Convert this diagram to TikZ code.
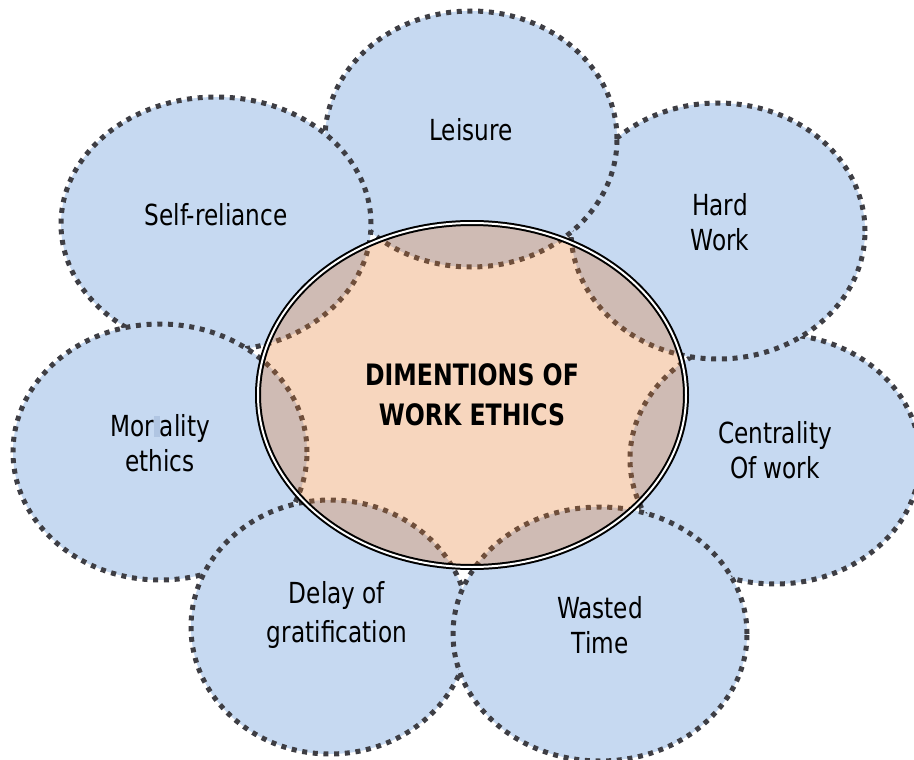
\documentclass[tikz,border=0pt]{standalone}
\usepackage{xcolor}
\usepackage{fontspec}
\setmainfont[FakeStretch=0.8]{DejaVu Sans}
\usepackage{tikz}
\usetikzlibrary{shapes.geometric}
\definecolor{petalblue}{RGB}{198,217,241}
\definecolor{petalline}{RGB}{62,62,68}
\definecolor{hubfill}{RGB}{230,120,40}
\definecolor{gapblue}{RGB}{176,197,226}

\begin{document}
\begin{tikzpicture}[x=1pt, y=-1pt,
        petal/.style={ellipse, draw=petalline, fill=petalblue, line width=5pt,
            dash pattern=on 5pt off 5.7pt, inner sep=0pt},
        every label/.style={align=center, yshift=9pt, font=\fontsize{29}{35}\selectfont},
        hub/.style={ellipse, draw=black, line width=2pt, double, double distance=2pt,
            fill=hubfill, fill opacity=0.3, text opacity=1, inner sep=0pt, align=center,
            font=\fontsize{29.5}{40}\selectfont\bfseries}]
            \useasboundingbox (0,0) rectangle (914,760);

            % Petals
            \node[petal, minimum width=290pt, minimum height=250pt, label=center:{Centrality\\Of work}] (n1) at (775,459) {};
            \node[petal, minimum width=294pt, minimum height=256pt, label={[xshift=2pt]center:{Hard\\Work}}] (n2) at (718,231) {};
            \node[petal, minimum width=292pt, minimum height=256pt, label=center:{Leisure}] (n3) at (471,139) {};
            \node[petal, minimum width=310pt, minimum height=254pt, label=center:{Self-reliance}] (n4) at (216,224) {};
            \node[petal, minimum width=294pt, minimum height=256pt, label=center:{Mor{\color{gapblue}\rule[-1pt]{6pt}{21pt}}ality\\ethics}] (n5) at (160,452) {};
            \node[petal, minimum width=278pt, minimum height=254pt, label={[yshift=3pt, xshift=7pt, font=\fontsize{29}{39}\selectfont]center:{Delay of\\gratification}}] (n6) at (330,627) {};
            \node[petal, minimum width=294pt, minimum height=254pt, label=center:{Wasted\\Time}] (n7) at (600,634) {};

            % Hub
            \node[hub, minimum width=428pt, minimum height=344pt] (n0) at (472,395) {DIMENTIONS OF\\WORK ETHICS};
        \end{tikzpicture}
\end{document}
